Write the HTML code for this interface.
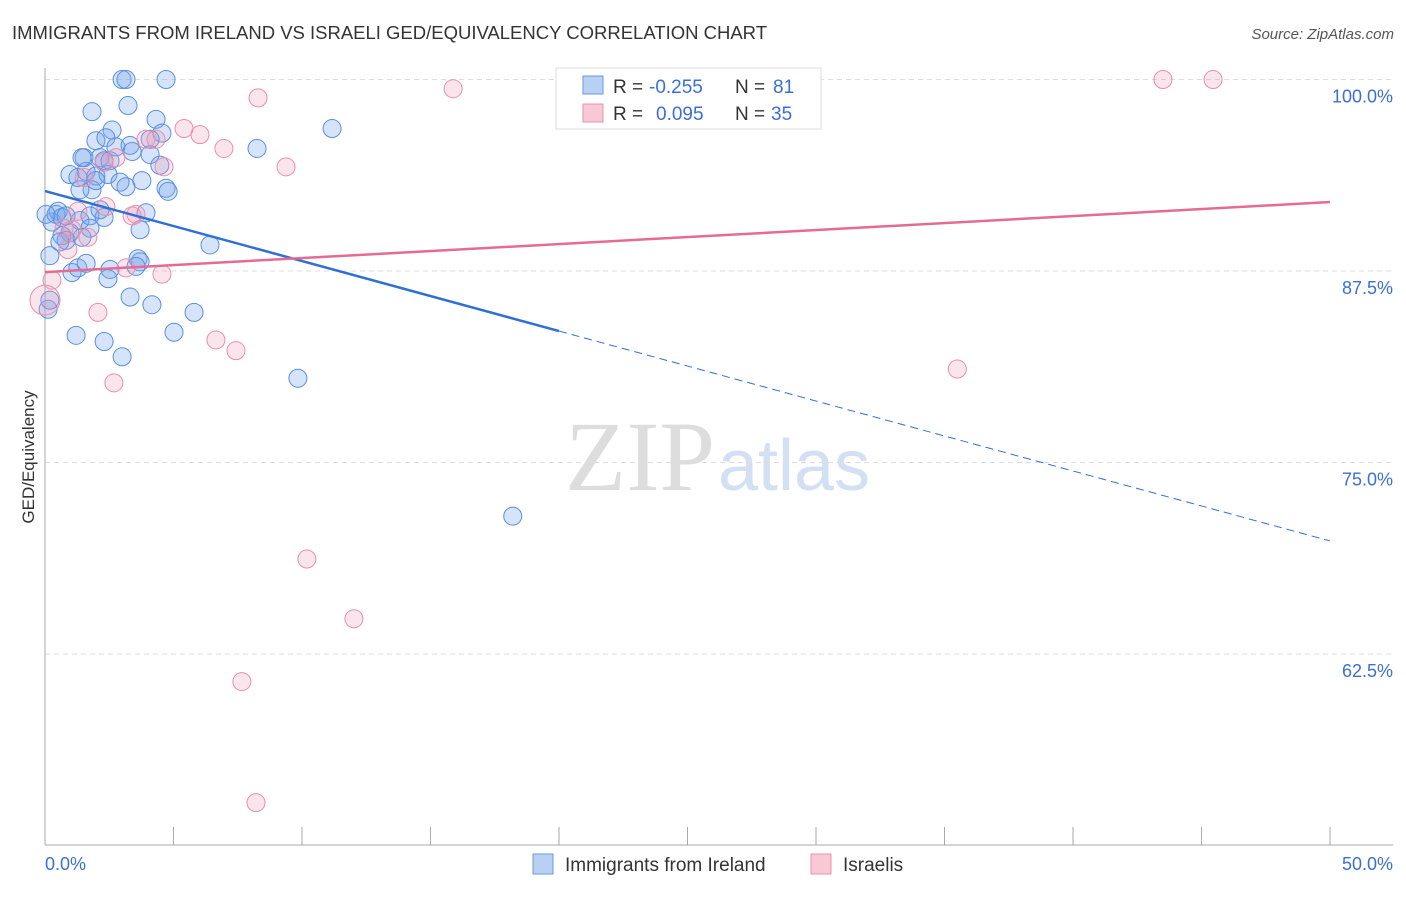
<!DOCTYPE html>
<html><head><meta charset="utf-8"><style>
body{margin:0;background:#fff;font-family:"Liberation Sans",sans-serif}
</style></head><body>
<svg id="c" width="1406" height="892" xmlns="http://www.w3.org/2000/svg">
<text x="12" y="39" font-size="18.5" fill="#333" textLength="755">IMMIGRANTS FROM IRELAND VS ISRAELI GED/EQUIVALENCY CORRELATION CHART</text>
<text x="1394" y="39" font-size="15" fill="#555" font-style="italic" text-anchor="end">Source: ZipAtlas.com</text>
<text x="715" y="490" font-size="100" fill="#ddd" text-anchor="end" font-family="Liberation Serif">ZIP</text>
<text x="718" y="490" font-size="72" fill="#d3e0f4">atlas</text>
<g id="grid"></g><g id="pts"></g><g id="lines"></g>
<text transform="translate(34,457) rotate(-90)" font-size="17" fill="#333" text-anchor="middle">GED/Equivalency</text>
<text x="45" y="870" font-size="18" fill="#3b6fd4">0.0%</text>
<text x="1393" y="870" font-size="18" fill="#3b6fd4" text-anchor="end">50.0%</text>
<g>
<rect x="556" y="68" width="265" height="61" fill="#fff" stroke="#ddd"/>
<rect x="583" y="76" width="20" height="18" fill="#b8d0f4" stroke="#6a9ae0"/>
<rect x="583" y="104" width="20" height="18" fill="#f8c8d6" stroke="#e890aa"/>
<text y="93" font-size="19" fill="#333"><tspan x="613">R =</tspan><tspan x="649" fill="#3b6fd4">-0.255</tspan><tspan x="735">N =</tspan><tspan x="773" fill="#3b6fd4">81</tspan></text>
<text y="120" font-size="19" fill="#333"><tspan x="613">R =</tspan><tspan x="656" fill="#3b6fd4">0.095</tspan><tspan x="735">N =</tspan><tspan x="771" fill="#3b6fd4">35</tspan></text>
</g>
<g>
<rect x="533" y="854" width="20" height="20" fill="#b8d0f4" stroke="#6a9ae0"/>
<text x="565" y="871" font-size="19" fill="#333">Immigrants from Ireland</text>
<rect x="811" y="854" width="20" height="20" fill="#f8c8d6" stroke="#e890aa"/>
<text x="843" y="871" font-size="19" fill="#333">Israelis</text>
</g>
</svg>
<script>
const yTicks=[100,87.5,75,62.5];
const yTickLabels=["100.0%","87.5%","75.0%","62.5%"];
const xTicks=[0,5,10,15,20,25,30,35,40,45,50];
const blueX=[3.0,3.15,4.71,1.83,3.23,4.32,2.61,4.55,1.98,2.37,2.76,3.31,4.09,1.52,2.14,3.39,4.09,0.97,1.28,1.60,1.98,2.45,2.92,3.15,3.77,4.71,4.79,1.83,1.36,1.44,2.30,0.51,0.27,0.43,0.66,0.82,0.97,1.36,1.75,2.30,0.66,0.82,1.75,3.70,3.93,6.42,0.19,1.05,1.28,1.60,2.53,2.45,3.62,3.70,3.54,3.31,4.16,5.80,0.12,0.19,1.21,2.30,3.0,5.02,8.25,11.17,9.84,18.2,0.04,2.53,4.47,1.44,0.58,2.14,1.98];
const blueY=[100,100,100,97.9,98.3,97.4,96.7,96.5,96.0,96.2,95.6,95.7,96.1,94.9,94.9,95.3,95.1,93.8,93.6,94.0,93.7,93.8,93.3,93.0,93.4,92.9,92.7,92.8,92.8,94.9,94.7,91.4,90.7,91.2,91.0,91.1,90.0,90.8,91.1,91.0,89.8,89.5,90.3,90.2,91.3,89.2,88.5,87.4,87.7,88.0,87.6,87.0,88.3,88.1,87.8,85.8,85.3,84.8,85.0,85.6,83.3,82.9,81.9,83.5,95.5,96.8,80.5,71.5,91.2,94.7,94.4,89.7,89.4,91.5,93.4];
const pinkX=[8.29,15.88,43.5,45.45,5.41,6.03,6.96,9.38,3.93,4.32,2.76,4.63,1.52,2.37,3.54,3.39,1.28,1.67,0.89,0.27,0,2.06,3.15,4.55,6.65,7.43,2.68,35.5,10.19,12.02,7.66,8.21,1.05,0.74,2.30];
const pinkY=[98.8,99.4,100,100,96.8,96.4,95.5,94.3,96.1,96.1,94.9,94.3,93.6,91.7,91.2,91.1,91.4,89.7,88.9,86.9,85.6,84.8,87.7,87.3,83.0,82.3,80.2,81.1,68.7,64.8,60.7,52.8,90.2,90.3,94.6];
const blueTrend=[[0,92.72],[20,83.58],[50,69.88]];
const pinkTrend=[[0,87.43],[50,92.0]];
const NS="http://www.w3.org/2000/svg";
const sx=v=>45+v/50*1285, sy=v=>79.5+(100-v)*15.32;
function mk(t,a,p){const e=document.createElementNS(NS,t);for(const k in a)e.setAttribute(k,a[k]);p.appendChild(e);return e;}
const g=document.getElementById('grid');
yTicks.forEach((v,i)=>{
 const l=mk('line',{x1:45,x2:1393,y1:sy(v),y2:sy(v),stroke:'#ddd','stroke-dasharray':'5,4'},g);
 
 
 const t=mk('text',{x:1393,y:sy(v)+23,'font-size':18,fill:'#3b6fd4','text-anchor':'end'},g);
 t.textContent=yTickLabels[i];
 
 
});
const ax=mk('line',{x1:45,x2:45,y1:68,y2:845,stroke:'#aaa'},g);


const bx=mk('line',{x1:45,x2:1393,y1:845,y2:845,stroke:'#aaa'},g);


xTicks.forEach(v=>{
 const t=mk('line',{x1:sx(v),x2:sx(v),y1:827,y2:845,stroke:'#aaa'},g);
 
 
});
const p=document.getElementById('pts');
blueX.forEach((x,i)=>{
 const c=mk('circle',{cx:sx(x),cy:sy(blueY[i]),r:9,fill:'rgba(120,165,235,0.3)',stroke:'#5a8fe0','stroke-width':1},p);
 
 
});
pinkX.forEach((x,i)=>{
 const c=mk('circle',{cx:sx(x),cy:sy(pinkY[i]),r:i==20?15:9,fill:'rgba(240,150,180,0.25)',stroke:'#ea8eac','stroke-width':1},p);
 
 
});
const L=document.getElementById('lines');
const b1=mk('line',{x1:sx(blueTrend[0][0]),y1:sy(blueTrend[0][1]),x2:sx(blueTrend[1][0]),y2:sy(blueTrend[1][1]),stroke:'#2f6fd6','stroke-width':2.5},L);


const b2=mk('line',{x1:sx(blueTrend[1][0]),y1:sy(blueTrend[1][1]),x2:sx(blueTrend[2][0]),y2:sy(blueTrend[2][1]),stroke:'#2f6fd6','stroke-width':1,'stroke-dasharray':'8,5'},L);


const p1=mk('line',{x1:sx(pinkTrend[0][0]),y1:sy(pinkTrend[0][1]),x2:sx(pinkTrend[1][0]),y2:sy(pinkTrend[1][1]),stroke:'#e56b94','stroke-width':2.5},L);


</script>
</body></html>
